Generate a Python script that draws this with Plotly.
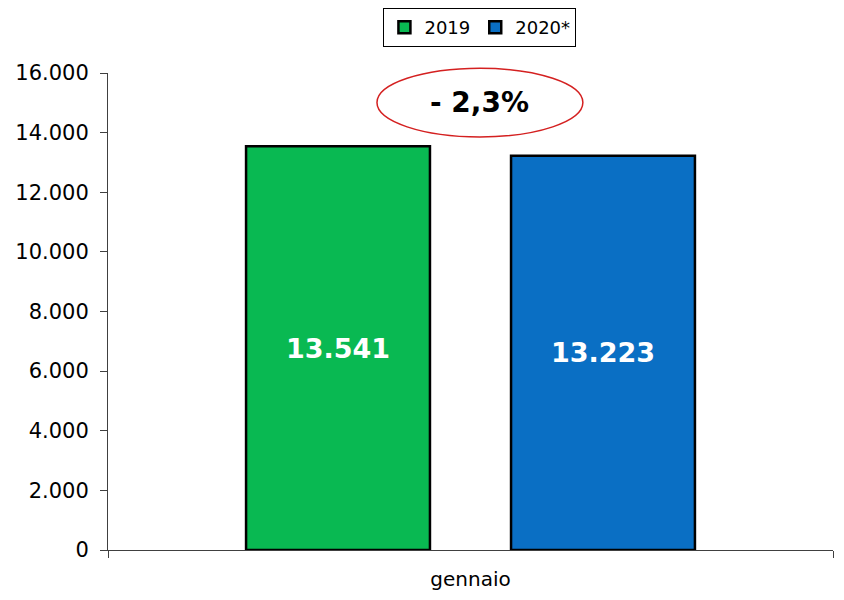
import plotly.graph_objects as go

# ----- data -----
months = ['gennaio']
series_names = ['2019', '2020*']
values_2019 = [13541]
values_2020 = [13223]
bar_colors = ['#09B952', '#0A6FC4']
change_label = '- 2,3%'
y_ticks = [0, 2000, 4000, 6000, 8000, 10000, 12000, 14000, 16000]
y_tick_labels = ['0', '2.000', '4.000', '6.000', '8.000', '10.000', '12.000', '14.000', '16.000']


def it_fmt(v):
    return f'{v:,}'.replace(',', '.')


fig = go.Figure()
for name, vals, col in zip(series_names, [values_2019, values_2020], bar_colors):
    fig.add_trace(go.Bar(
        x=months, y=vals, name=name,
        marker=dict(color=col, line=dict(color='black', width=2.5)),
        text=[it_fmt(v) for v in vals],
        textposition='inside', insidetextanchor='middle',
        textfont=dict(family='DejaVu Sans', size=27, color='white', weight='bold'),
    ))

# red ellipse with the percentage change
fig.add_shape(type='circle', xref='paper', yref='paper',
              x0=0.371, x1=0.655, y0=0.866, y1=1.01,
              line=dict(color='#D42020', width=1.5))
fig.add_annotation(text=change_label, xref='paper', yref='paper',
                   x=0.513, y=0.938, xanchor='center', yanchor='middle', showarrow=False,
                   font=dict(family='DejaVu Sans', size=28, color='black', weight='bold'))

# page body adds 8px around the figure, so the figure is 16px smaller
fig.update_layout(
    width=828, height=584,
    margin=dict(l=100, r=3, t=65, b=42, autoexpand=False),
    paper_bgcolor='white', plot_bgcolor='white',
    barmode='group', bargap=0.269, bargroupgap=0.306,
    font=dict(family='DejaVu Sans', color='black'),
    showlegend=True,
    legend=dict(orientation='h', x=0.513, y=1.136, xanchor='center', yanchor='top',
                bordercolor='black', borderwidth=1, bgcolor='white',
                font=dict(size=18), itemwidth=30, tracegroupgap=0),
    yaxis=dict(range=[0, 16000], tickvals=y_ticks, ticktext=y_tick_labels,
               showgrid=False, zeroline=False, showline=True, linecolor='#404040',
               ticks='outside', ticklen=7, tickcolor='#404040',
               ticklabelstandoff=7, tickfont=dict(size=21)),
    xaxis=dict(showgrid=False, showline=True, linecolor='#404040',
               ticks='outside', tickson='boundaries', ticklen=7, tickcolor='#404040',
               ticklabelstandoff=11, tickfont=dict(size=20)),
)

fig.write_html('out.html')
